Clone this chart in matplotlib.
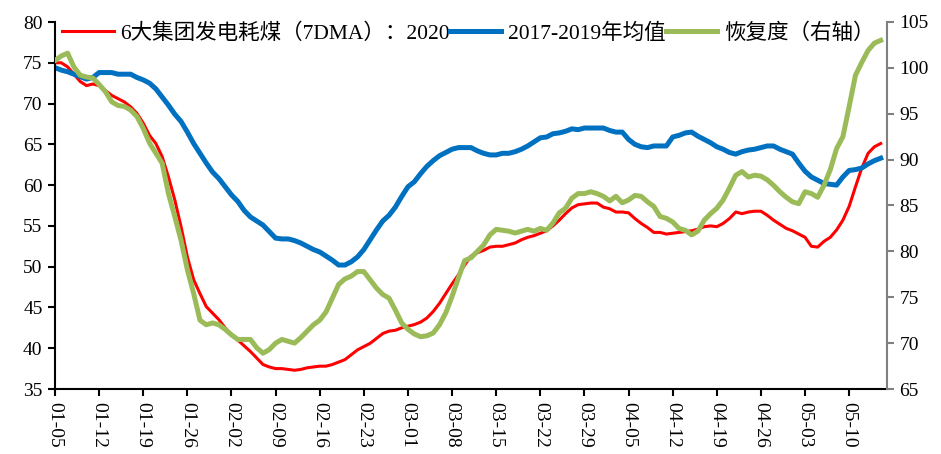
import matplotlib
matplotlib.use("Agg")
import matplotlib.pyplot as plt
import numpy as np
import pandas as pd

# daily dates 2020-01-05 .. 2020-05-15
dates = pd.date_range("2020-01-05", "2020-05-15", freq="D")
tick_labels = ["01-05", "01-12", "01-19", "01-26", "02-02", "02-09", "02-16", "02-23",
               "03-01", "03-08", "03-15", "03-22", "03-29", "04-05", "04-12", "04-19",
               "04-26", "05-03", "05-10"]

coal_2020 = [
    75.0, 75.0, 74.5, 73.6, 72.7, 72.2, 72.4, 72.2, 71.6, 71.0, 70.6, 70.2, 69.6, 68.8,
    67.6, 66.1, 65.1, 63.5, 61.0, 58.2, 54.9, 51.2, 48.4, 46.7, 45.1, 44.3, 43.5, 42.5,
    41.6, 41.0, 40.3, 39.6, 38.8, 38.0, 37.7, 37.5, 37.5, 37.4, 37.3, 37.4, 37.6, 37.7,
    37.8, 37.8, 38.0, 38.3, 38.6, 39.2, 39.8, 40.2, 40.6, 41.2, 41.8, 42.1, 42.2, 42.5,
    42.7, 42.9, 43.2, 43.7, 44.5, 45.5, 46.7, 47.9, 49.0, 50.2, 51.3, 51.7, 52.0, 52.4,
    52.5, 52.5, 52.7, 52.9, 53.3, 53.6, 53.8, 54.1, 54.4, 55.0, 55.7, 56.5, 57.2, 57.6,
    57.7, 57.8, 57.8, 57.3, 57.1, 56.7, 56.7, 56.6, 55.9, 55.3, 54.8, 54.2, 54.2, 54.0,
    54.1, 54.2, 54.3, 54.4, 54.6, 54.9, 55.0, 54.9, 55.3, 55.9, 56.7, 56.5, 56.7, 56.8,
    56.8, 56.3, 55.7, 55.2, 54.7, 54.4, 54.0, 53.6, 52.5, 52.4, 53.1, 53.6, 54.5, 55.7,
    57.4, 59.8, 62.1, 63.9, 64.7, 65.1]

avg_1719 = [
    74.4, 74.1, 73.9, 73.6, 73.3, 73.0, 73.2, 73.8, 73.8, 73.8, 73.6, 73.6, 73.6, 73.2,
    72.9, 72.5, 71.8, 70.8, 69.8, 68.7, 67.8, 66.5, 65.1, 63.9, 62.7, 61.6, 60.8, 59.8,
    58.8, 58.0, 56.9, 56.1, 55.6, 55.1, 54.3, 53.5, 53.4, 53.4, 53.2, 52.9, 52.5, 52.1,
    51.8, 51.3, 50.8, 50.2, 50.2, 50.6, 51.2, 52.1, 53.3, 54.5, 55.6, 56.3, 57.3, 58.6,
    59.8, 60.4, 61.4, 62.3, 63.0, 63.6, 64.0, 64.4, 64.6, 64.6, 64.6, 64.2, 63.9, 63.7,
    63.7, 63.9, 63.9, 64.1, 64.4, 64.8, 65.3, 65.8, 65.9, 66.3, 66.4, 66.6, 66.9, 66.8,
    67.0, 67.0, 67.0, 67.0, 66.7, 66.5, 66.5, 65.6, 65.0, 64.7, 64.6, 64.8, 64.8, 64.8,
    65.9, 66.1, 66.4, 66.5, 66.0, 65.6, 65.2, 64.7, 64.4, 64.0, 63.8, 64.1, 64.3, 64.4,
    64.6, 64.8, 64.8, 64.4, 64.1, 63.8, 62.7, 61.7, 61.0, 60.6, 60.2, 60.1, 60.0, 61.0,
    61.8, 61.9, 62.1, 62.6, 63.0, 63.3]

recovery = [
    100.8, 101.3, 101.6, 100.1, 99.2, 99.0, 98.9, 98.2, 97.4, 96.3, 95.9, 95.8, 95.4, 94.7,
    93.4, 91.8, 90.7, 89.6, 86.3, 83.8, 81.2, 78.0, 75.4, 72.5, 72.0, 72.2, 72.0, 71.5,
    70.9, 70.4, 70.4, 70.4, 69.5, 68.9, 69.3, 70.0, 70.4, 70.2, 70.0, 70.6, 71.3, 72.0,
    72.5, 73.4, 74.9, 76.4, 77.0, 77.3, 77.8, 77.8, 76.9, 76.0, 75.3, 74.9, 73.6, 72.2,
    71.5, 71.0, 70.7, 70.8, 71.1, 72.0, 73.3, 75.1, 77.1, 79.0, 79.3, 80.0, 80.7, 81.8,
    82.4, 82.3, 82.2, 82.0, 82.2, 82.4, 82.2, 82.5, 82.3, 83.1, 84.2, 84.7, 85.8, 86.3,
    86.3, 86.5, 86.3, 86.0, 85.5, 86.0, 85.3, 85.6, 86.1, 86.0, 85.4, 84.9, 83.8, 83.6,
    83.2, 82.5, 82.3, 81.8, 82.2, 83.4, 84.1, 84.7, 85.6, 86.9, 88.3, 88.7, 88.1, 88.3,
    88.2, 87.8, 87.2, 86.5, 85.9, 85.4, 85.2, 86.5, 86.3, 85.9, 87.2, 88.9, 91.2, 92.5,
    95.8, 99.2, 100.6, 101.9, 102.7, 103.0]

plt.rcParams["font.family"] = ["Liberation Serif", "Noto Sans CJK SC"]
plt.rcParams["font.size"] = 14

fig = plt.figure(figsize=(9.41, 4.54), dpi=100)
ax = fig.add_axes([55/941, 1 - 389/454, (887 - 55)/941, (389 - 22)/454])
x = np.arange(len(dates))

l1, = ax.plot(x, coal_2020, color="#FF0000", lw=2.2, label="6大集团发电耗煤（7DMA）：2020")
l2, = ax.plot(x, avg_1719, color="#0070C0", lw=3.6, label="2017-2019年均值")
ax.set_ylim(35, 80)
ax.set_yticks(np.arange(35, 81, 5))
ax.set_xlim(0, 132)

ax2 = ax.twinx()
l3, = ax2.plot(x, recovery, color="#9BBB59", lw=3.6, label="恢复度（右轴）")
ax2.set_ylim(65, 105)
ax2.set_yticks(np.arange(65, 106, 5))

ticks = [dates.get_loc(pd.Timestamp("2020-" + t)) for t in tick_labels]
ax.set_xticks(ticks)
ax.set_xticklabels(tick_labels, rotation=-90, va="top", ha="center")

for a in (ax, ax2):
    a.spines["top"].set_visible(False)
ax.spines["right"].set_visible(False)
ax2.spines["left"].set_visible(False)
ax2.spines["bottom"].set_visible(False)
ax.spines["left"].set_linewidth(1.5)
ax.spines["bottom"].set_linewidth(1.5)
ax2.spines["right"].set_color("#808080")
ax2.spines["right"].set_linewidth(1.5)
ax.tick_params(axis="both", direction="out", length=5, width=1.5, pad=4)
ax2.tick_params(axis="y", direction="out", length=5, width=1.5, color="#808080", pad=4)

ax2.legend(handles=[l1, l2, l3], loc="upper left", bbox_to_anchor=(62/941, 1 - 23/454),
           bbox_transform=fig.transFigure, ncol=3, frameon=False, borderpad=0,
           fontsize=15.5, handlelength=2.4, handletextpad=0.3, columnspacing=0.0,
           borderaxespad=0)

fig.savefig("out.png", dpi=100)
